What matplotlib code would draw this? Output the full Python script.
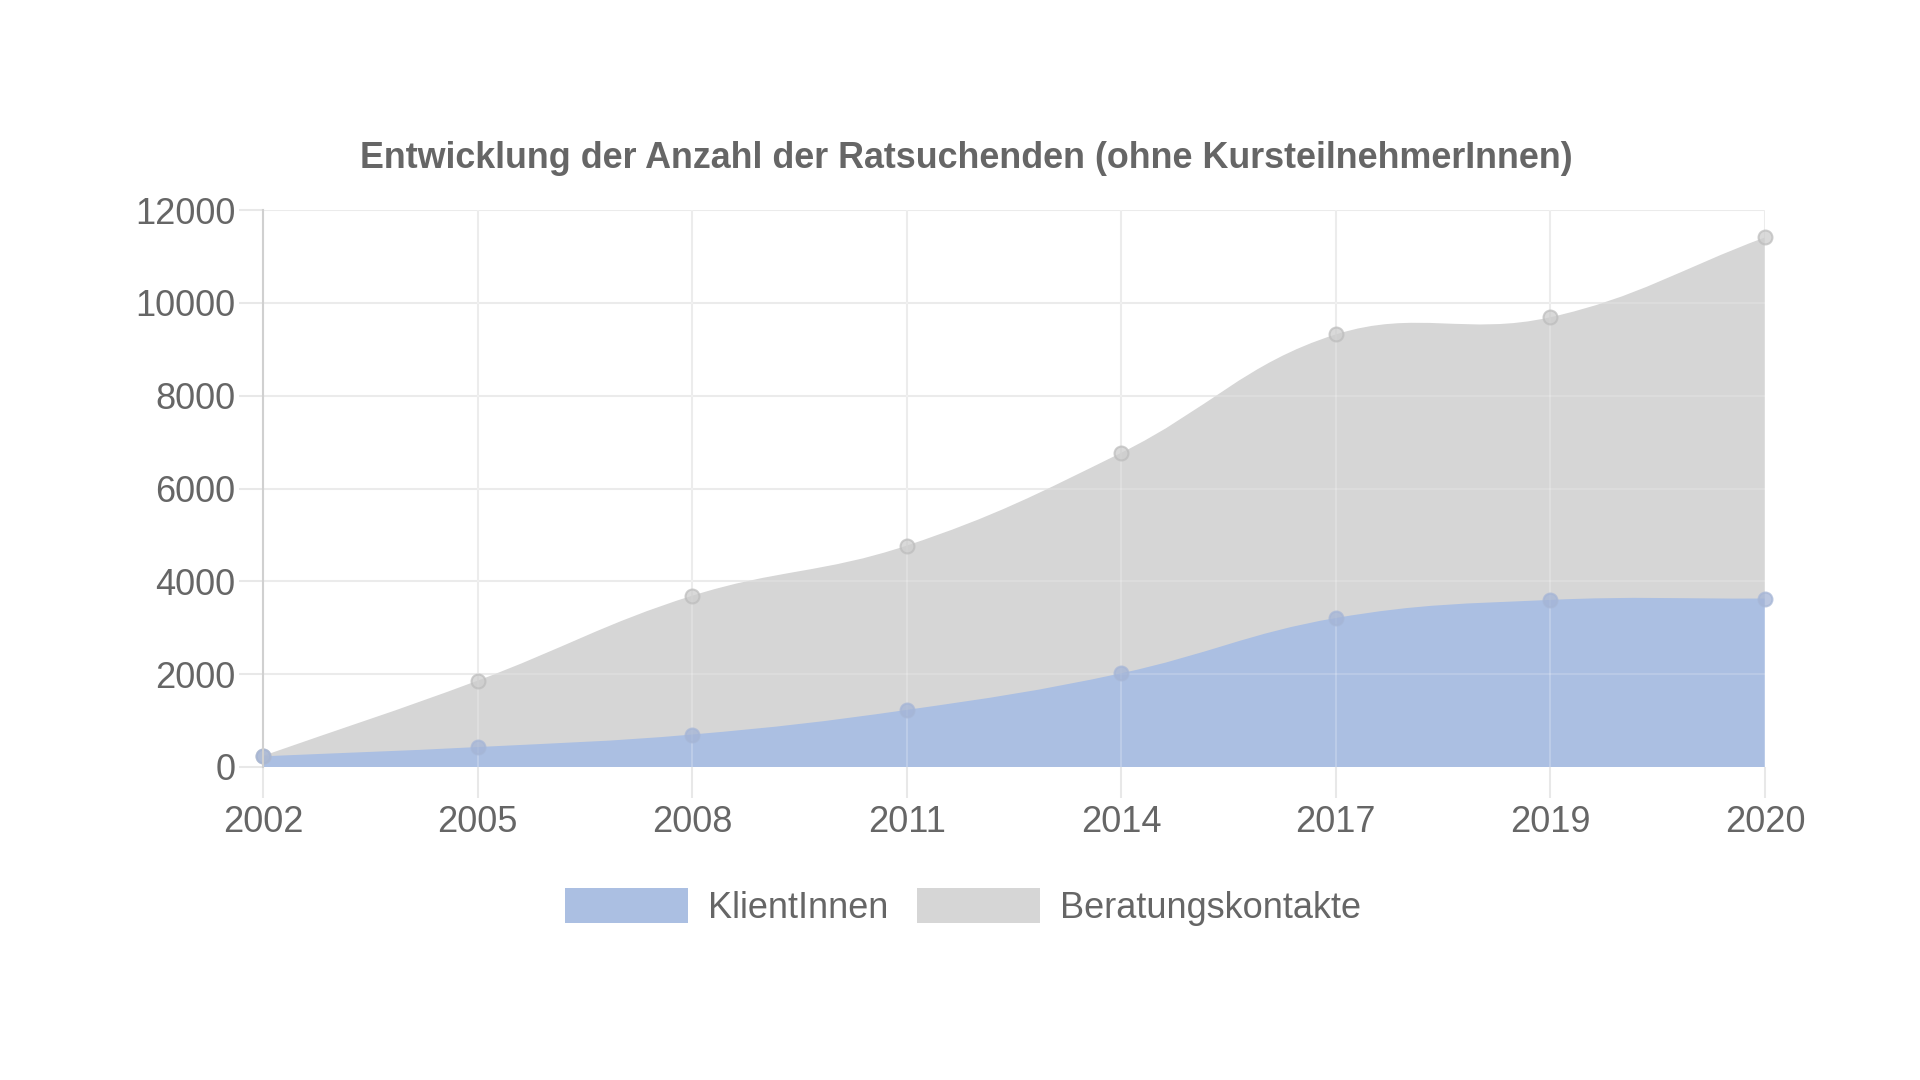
import numpy as np
import matplotlib
matplotlib.use("Agg")
import matplotlib.pyplot as plt
from matplotlib.path import Path
from matplotlib.patches import PathPatch, Patch

plt.rcParams['font.family'] = ['Liberation Sans', 'DejaVu Sans']

# ---- data ----
years = ['2002', '2005', '2008', '2011', '2014', '2017', '2019', '2020']
klienten = [230, 430, 700, 1230, 2020, 3210, 3600, 3630]
beratung = [240, 1860, 3690, 4770, 6770, 9320, 9690, 11410]
series_names = ['KlientInnen', 'Beratungskontakte']
y_ticks = [0, 2000, 4000, 6000, 8000, 10000, 12000]
title = 'Entwicklung der Anzahl der Ratsuchenden (ohne KursteilnehmerInnen)'

BLUE = '#abbfe2'
GRAY = '#d6d6d6'
TEXT = '#666666'
GRID = '#e8e8e8'

fig = plt.figure(figsize=(19.2, 10.8), dpi=100)
fig.patch.set_facecolor('white')
ax = fig.add_axes([263/1920, 1-767/1080, (1765-263)/1920, (767-210)/1080])
ax.set_xlim(0, len(years)-1)
ax.set_ylim(0, 12000)

# pixel scales for chart.js-like spline tension
sx = (1765-263)/(len(years)-1)
sy = (767-210)/12000.0


def spline_path(vals, tension=0.4):
    x = np.arange(len(vals), dtype=float)
    y = np.asarray(vals, dtype=float)
    n = len(x)
    cp_prev = []
    cp_next = []
    for i in range(n):
        px, py = (x[i-1], y[i-1]) if i > 0 else (x[i], y[i])
        nx, ny = (x[i+1], y[i+1]) if i < n-1 else (x[i], y[i])
        d01 = np.hypot((x[i]-px)*sx, (y[i]-py)*sy)
        d12 = np.hypot((nx-x[i])*sx, (ny-y[i])*sy)
        tot = d01 + d12
        s01 = d01/tot if tot else 0
        s12 = d12/tot if tot else 0
        fa, fb = tension*s01, tension*s12
        cpx_p = x[i] - fa*(nx-px)
        cpy_p = y[i] - fa*(ny-py)
        cpx_n = x[i] + fb*(nx-px)
        cpy_n = y[i] + fb*(ny-py)
        cp_prev.append((cpx_p, min(max(cpy_p, 0), 12000)))
        cp_next.append((cpx_n, min(max(cpy_n, 0), 12000)))
    verts = [(x[0], 0), (x[0], y[0])]
    codes = [Path.MOVETO, Path.LINETO]
    for i in range(n-1):
        verts += [cp_next[i], cp_prev[i+1], (x[i+1], y[i+1])]
        codes += [Path.CURVE4]*3
    verts += [(x[-1], 0), (x[0], 0)]
    codes += [Path.LINETO, Path.CLOSEPOLY]
    return Path(verts, codes)


# grid
for i in range(len(years)):
    ax.axvline(i, color=GRID, lw=1.5, zorder=0)
for t in y_ticks:
    ax.axhline(t, color=GRID, lw=1.5, zorder=0)

ax.add_patch(PathPatch(spline_path(beratung), facecolor=GRAY, edgecolor='none', zorder=1))
ax.add_patch(PathPatch(spline_path(klienten), facecolor=BLUE, edgecolor='none', zorder=2))

# faint grid over fills
for i in range(len(years)):
    ax.axvline(i, color='white', lw=1.2, alpha=0.25, zorder=3)
for t in y_ticks[1:]:
    ax.axhline(t, color='white', lw=1.2, alpha=0.2, zorder=3)

xs = np.arange(len(years))
ax.plot(xs, beratung, 'o', ms=10, mfc='#cdcdcd', mec='#bdbdbd', mew=1.5, alpha=0.75,
        clip_on=False, zorder=4, ls='none')
ax.plot(xs, klienten, 'o', ms=10, mfc='#a3b4d6', mec='#a6b6d6', mew=1.5, alpha=0.75,
        clip_on=False, zorder=5, ls='none')

ax.set_xticks(xs)
ax.set_xticklabels(years)
ax.set_yticks(y_ticks)
ax.set_yticklabels([str(t) for t in y_ticks])
ax.tick_params(axis='x', length=22, width=1.5, color=GRID, pad=5, labelsize=26, labelcolor=TEXT)
ax.tick_params(axis='y', length=17, width=1.5, color=GRID, pad=3, labelsize=26, labelcolor=TEXT)
for s in ['top', 'right', 'bottom']:
    ax.spines[s].set_visible(False)
ax.spines['left'].set_color('#d0d0d0')
ax.spines['left'].set_linewidth(1.5)
ax.spines['left'].set_zorder(6)

fig.text(966/1920, 1-159/1080, title, ha='center', va='center', fontsize=25.8,
         fontweight='bold', color=TEXT)

handles = [Patch(facecolor=BLUE, edgecolor='none'), Patch(facecolor=GRAY, edgecolor='none')]
fig.legend(handles, series_names, loc='center', bbox_to_anchor=(963/1920, 1-907/1080),
           ncol=2, frameon=False, fontsize=26, labelcolor=TEXT,
           handlelength=3.4, handleheight=1.1, handletextpad=0.55, columnspacing=0.8)

fig.savefig('out.png', dpi=100)
